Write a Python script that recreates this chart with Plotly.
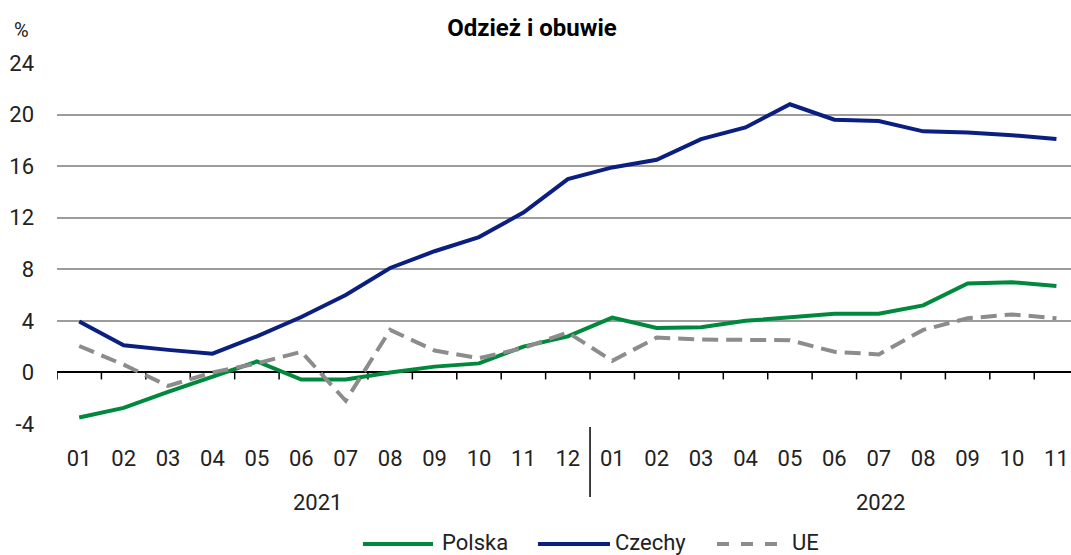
import plotly.graph_objects as go

months = ["01", "02", "03", "04", "05", "06", "07", "08", "09", "10", "11", "12",
          "01", "02", "03", "04", "05", "06", "07", "08", "09", "10", "11"]
years = ["2021", "2022"]
year_start = [0, 12]
polska = [-3.5, -2.75, -1.5, -0.3, 0.85, -0.55, -0.55, 0.0, 0.45, 0.7, 2.0, 2.8,
          4.25, 3.45, 3.5, 4.0, 4.3, 4.55, 4.55, 5.2, 6.9, 7.0, 6.7]
czechy = [3.95, 2.1, 1.75, 1.45, 2.8, 4.3, 6.0, 8.1, 9.4, 10.5, 12.4, 15.0,
          15.9, 16.5, 18.1, 19.0, 20.8, 19.6, 19.5, 18.7, 18.6, 18.4, 18.1]
ue = [2.05, 0.6, -1.05, 0.0, 0.7, 1.6, -2.2, 3.3, 1.7, 1.1, 1.9, 3.1,
      0.9, 2.7, 2.55, 2.55, 2.5, 1.6, 1.4, 3.3, 4.2, 4.5, 4.2]
series_names = ["Polska", "Czechy", "UE"]
colors = ["#00893c", "#0a1f80", "#8c8c8c"]
dashes = ["solid", "solid", "16px,8px"]
y_ticks = [-4, 0, 4, 8, 12, 16, 20, 24]
y_tick_labels = ["-4", "0", "4", "8", "12", "16", "20", "24"]

W, H = 1071, 555
ML, MR, MT, MB = 57, 0, 63, 131
PW = W - ML - MR
PH = H - MT - MB
FONT = "Roboto"
TXT = "#222222"


def px_x(p):
    return (p - ML) / PW


def px_y(p):
    return (H - MB - p) / PH


x = list(range(len(months)))
fig = go.Figure()
for name, vals, col, dsh in zip(series_names, [polska, czechy, ue], colors, dashes):
    fig.add_trace(go.Scatter(x=x, y=vals, mode="lines", name=name,
                             line=dict(color=col, width=4, dash=dsh),
                             showlegend=False))

shapes = []
# tick marks on zero line, between categories
for i in range(len(months) + 1):
    shapes.append(dict(type="line", xref="x", yref="y", x0=i - 0.5, x1=i - 0.5,
                       ysizemode="pixel", yanchor=0, y0=0, y1=-7,
                       line=dict(color="black", width=1.5), layer="between"))
# year divider
for s in year_start[1:]:
    shapes.append(dict(type="line", xref="x", yref="paper", x0=s - 0.5, x1=s - 0.5,
                       y0=-3 / PH, y1=-73 / PH, line=dict(color="black", width=1.5)))

annotations = []
# year labels
year_label_px = [317.5, 880]
for yr, xp in zip(years, year_label_px):
    annotations.append(dict(text=yr, xref="paper", yref="paper", x=px_x(xp), y=px_y(503),
                            showarrow=False, xanchor="center", yanchor="middle",
                            font=dict(family=FONT, size=22, color=TXT)))
# % unit label
annotations.append(dict(text="%", xref="paper", yref="paper", x=px_x(21), y=px_y(30),
                        showarrow=False, xanchor="center", yanchor="middle",
                        font=dict(family=FONT, size=20, color=TXT)))

# custom legend
legend_items = [(363, 433, 440), (538, 610, 613), (717, 782, 790)]
for (x0, x1, tx), name, col, dsh in zip(legend_items, series_names, colors, dashes):
    shapes.append(dict(type="line", xref="paper", yref="paper", x0=px_x(x0), x1=px_x(x1),
                       y0=px_y(544), y1=px_y(544),
                       line=dict(color=col, width=4, dash="dash" if dsh != "solid" else "solid")))
    annotations.append(dict(text=name, xref="paper", yref="paper", x=px_x(tx), y=px_y(542),
                            showarrow=False, xanchor="left", yanchor="middle",
                            font=dict(family=FONT, size=22, color=TXT)))

fig.update_layout(
    width=W, height=H,
    margin=dict(l=ML, r=MR, t=MT, b=MB, pad=0),
    paper_bgcolor="white", plot_bgcolor="white",
    title=dict(text="<b>Odzież i obuwie</b>", x=532 / W, xanchor="center",
               y=1 - 28 / H, yanchor="middle",
               font=dict(family=FONT, size=24, color="black")),
    xaxis=dict(range=[-0.5, (W - MR - ML) / 44.42 - 0.5], tickmode="array",
               tickvals=x, ticktext=months, showgrid=False, zeroline=False,
               showline=False, ticks="", ticklabelstandoff=19,
               tickfont=dict(family=FONT, size=22, color=TXT), fixedrange=True),
    yaxis=dict(range=[-4, 24], tickmode="array", tickvals=y_ticks, ticktext=y_tick_labels,
               showgrid=True, gridcolor="#9c9c9c", gridwidth=1.5,
               zeroline=True, zerolinecolor="black", zerolinewidth=1.5,
               showline=False, ticks="", ticklabelstandoff=22,
               tickfont=dict(family=FONT, size=22, color=TXT), fixedrange=True),
    shapes=shapes, annotations=annotations, showlegend=False,
)

fig.write_html("out.html", config={"displayModeBar": False},
               post_script="document.body.style.margin='0';document.body.style.overflow='hidden';")
